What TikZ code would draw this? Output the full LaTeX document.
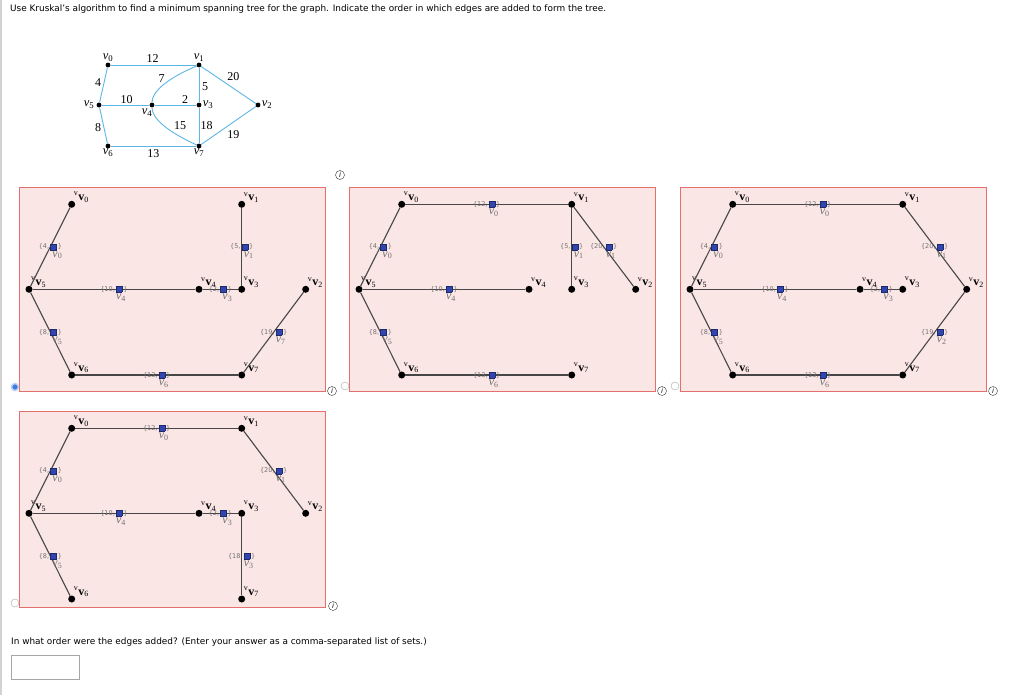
\documentclass[tikz,border=0pt]{standalone}
\usepackage{fontspec}
\setmainfont{DejaVu Sans}
\newfontfamily\vfont{Liberation Serif}
\usetikzlibrary{positioning}
\definecolor{panelbg}{HTML}{FBE6E6}
\definecolor{panelrim}{HTML}{E4706B}
\definecolor{slotblue}{HTML}{3145AE}
\definecolor{graphblue}{HTML}{5DB6E6}
\definecolor{txtgrey}{HTML}{707070}
\definecolor{radioblue}{HTML}{3B7DDD}
\newcommand{\slot}{{\setlength{\fboxsep}{0pt}\setlength{\fboxrule}{0.5pt}\raisebox{-0.6pt}{\fcolorbox{slotblue!60!black}{slotblue}{\rule{0pt}{5.5pt}\hspace{5.5pt}}}}}
\newcommand{\vname}[1]{\textit{v}\textsubscript{#1}}
\newcommand{\pname}[1]{\textsuperscript{v}\textbf{v}\textsubscript{#1}}

\begin{document}
\begin{tikzpicture}[
  x=1pt, y=-1pt,
  vtx/.style={circle, fill=black, inner sep=0pt, minimum size=7pt},
  tvtx/.style={circle, fill=black, inner sep=0pt, minimum size=4.8pt},
  edge/.style={draw=black!72, line width=1.1pt},
  tedge/.style={draw=graphblue, line width=0.9pt},
  panel/.style={draw=panelrim, fill=panelbg, line width=0.8pt},
  wt/.style={font=\fontsize{6.5}{7}\selectfont, text=txtgrey, inner sep=0pt},
  vlab/.style={font=\vfont\fontsize{12}{12}\selectfont, text=txtgrey, inner sep=0.5pt, xshift=7pt},
  plab/.style={font=\vfont\fontsize{12}{12}\selectfont, inner sep=0pt, label distance=-1pt},
  tlab/.style={font=\vfont\fontsize{12.5}{12.5}\selectfont, inner sep=1pt},
  tnum/.style={font=\vfont\fontsize{12}{12}\selectfont, inner sep=0pt},
  radio/.style={circle, draw=black!35, fill=white, minimum size=8pt, inner sep=0pt},
  info/.style={circle, draw=black!80, minimum size=9pt, inner sep=0pt, font=\fontsize{7}{7}\selectfont\itshape},
]
\fill[white] (0,0) rectangle (1024,695);
\useasboundingbox (0,0) rectangle (1024,695);
\draw[gray!35, line width=1.5pt] (0.75,0) -- (0.75,695);

% question
\node[anchor=west, inner sep=0pt, font=\fontsize{8.9}{10}\selectfont] (question) at (10,9.5) {Use Kruskal's algorithm to find a minimum spanning tree for the graph. Indicate the order in which edges are added to form the tree.};

% the graph
\node[tvtx, label={[tlab]above:\vname{0}}] (t0) at (108,65) {};
\node[tvtx, label={[tlab]above:\vname{1}}] (t1) at (199,65) {};
\node[tvtx, label={[tlab, label distance=1pt]left:\vname{5}}] (t5) at (99,105) {};
\node[tvtx, label={[tlab, xshift=-5pt, label distance=0pt]below:\vname{4}}] (t4) at (152,105) {};
\node[tvtx, label={[tlab]right:\vname{3}}] (t3) at (199,105) {};
\node[tvtx, label={[tlab]right:\vname{2}}] (t2) at (258,105) {};
\node[tvtx, label={[tlab, label distance=-1pt]below:\vname{6}}] (t6) at (108,146) {};
\node[tvtx, label={[tlab, label distance=-1pt]below:\vname{7}}] (t7) at (199,146) {};

\draw[tedge] (t0) -- (t1);
\draw[tedge] (t0) -- (t5);
\draw[tedge] (t5) -- (t6);
\draw[tedge] (t6) -- (t7);
\draw[tedge] (t5) -- (t4);
\draw[tedge] (t4) -- (t3);
\draw[tedge] (t1) -- (t3);
\draw[tedge] (t3) -- (t7);
\draw[tedge] (t1) -- (t2);
\draw[tedge] (t2) -- (t7);
\draw[tedge] (t1) .. controls (167.7,78.2) and (152,91.5) .. (t4) .. controls (152,118.5) and (167.7,131.8) .. (t7);

\node[tnum] (w12) at (152.7,58.3) {12};
\node[tnum] (w4) at (98,82.7) {4};
\node[tnum] (w7) at (161.7,78.3) {7};
\node[tnum] (w5) at (205,86.7) {5};
\node[tnum] (w20) at (233.3,76.7) {20};
\node[tnum] (w10) at (126.7,99.3) {10};
\node[tnum] (w2) at (185,99.3) {2};
\node[tnum] (w8) at (98,127.3) {8};
\node[tnum] (w15) at (180,126) {15};
\node[tnum] (w18) at (206.7,126) {18};
\node[tnum] (w19) at (233.3,135) {19};
\node[tnum] (w13) at (153.3,154) {13};

\node[info] (infotop) at (340,175) {i};

% answer panels
\foreach \p/\sx/\sy/\h in {a/19/187.7/203.3, b/349/187.7/203.3, c/680/187.7/203.3, d/19/411.7/196}{
  \begin{scope}[shift={(\sx,\sy)}]
    \draw[panel] (0,0) rectangle (306,\h);
    \foreach \i/\px/\py in {0/52.7/16.6, 1/222.7/16.6, 5/10/101.6, 4/180/101.6, 3/222.7/101.6, 2/286.7/101.6, 6/52.7/187.3, 7/222.7/187.3}
      \node[vtx, label={[plab]above right:\pname{\i}}] (\p\i) at (\px,\py) {};
  \end{scope}
}

\foreach \ea/\eb/\ew/\el in {a0/a5/4/0, a1/a3/5/1, a5/a4/10/4, a4/a3/2/3, a5/a6/8/5, a6/a7/13/6, a2/a7/19/7,
  b0/b1/12/0, b0/b5/4/0, b1/b3/5/1, b1/b2/20/1, b5/b4/10/4, b5/b6/8/5, b6/b7/13/6,
  c0/c1/12/0, c0/c5/4/0, c1/c2/20/1, c5/c4/10/4, c4/c3/2/3, c5/c6/8/5, c2/c7/19/2, c6/c7/13/6,
  d0/d1/12/0, d0/d5/4/0, d1/d2/20/1, d5/d4/10/4, d4/d3/2/3, d5/d6/8/5, d3/d7/18/3}
  \draw[edge] (\ea) -- node[wt, label={[vlab]below:\vname{\el}}] {\{\ew,\,\slot\,\}} (\eb);

% choices
\node[circle, fill=radioblue, draw=radioblue!35, line width=1.5pt, minimum size=7pt, inner sep=0pt] (pickA) at (15,387) {};
\node[radio] (pickB) at (345,386) {};
\node[radio] (pickC) at (675,386) {};
\node[radio] (pickD) at (15,603) {};
\node[info] (infoA) at (332,391) {i};
\node[info] (infoB) at (662,391) {i};
\node[info] (infoC) at (993,391) {i};
\node[info] (infoD) at (333,606) {i};

% answer box
\node[anchor=west, inner sep=0pt, font=\fontsize{8.9}{10}\selectfont] (prompt) at (11,642) {In what order were the edges added? (Enter your answer as a comma-separated list of sets.)};
\node[draw=gray!70, fill=white, minimum width=68pt, minimum height=24pt, inner sep=0pt, anchor=north west] (answer) at (11,655) {};
\end{tikzpicture}
\end{document}
